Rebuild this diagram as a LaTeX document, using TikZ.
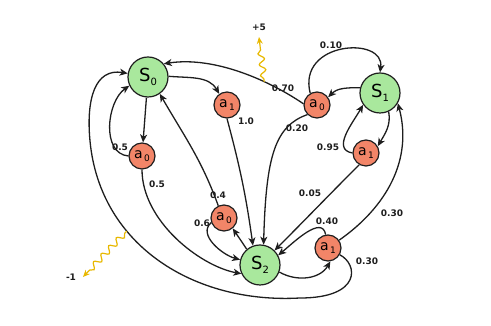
\documentclass[tikz,border=0pt]{standalone}
\usepackage{fontspec}
\setsansfont{DejaVu Sans}
\usetikzlibrary{arrows.meta,decorations.pathmorphing}
\definecolor{stateGreen}{HTML}{A9E89D}
\definecolor{actionRed}{HTML}{F28568}
\definecolor{inkGray}{HTML}{1E1E1E}
\definecolor{rewardGold}{HTML}{E8B800}
\newcommand{\stname}[1]{S\raisebox{-0.45ex}{\fontsize{10}{10}\selectfont #1}}
\newcommand{\actname}[1]{a\raisebox{-0.35ex}{\fontsize{9}{9}\selectfont\,#1}}
\tikzset{
    statenode/.style={circle,draw=inkGray,fill=stateGreen,line width=1.2pt,
        minimum size=40pt,inner sep=0pt,font=\sffamily\fontsize{18}{18}\selectfont},
    actnode/.style={circle,draw=inkGray,fill=actionRed,line width=1.2pt,
        minimum size=26pt,inner sep=0pt,font=\sffamily\fontsize{14}{14}\selectfont},
    trans/.style={-{Stealth[length=8pt,width=7pt,inset=2.2pt]},draw=inkGray,line width=1.3pt},
    prob/.style={font=\sffamily\bfseries\fontsize{9}{10}\selectfont,inner sep=0pt,text=inkGray},
    reward/.style={-{Stealth[length=7pt,width=6pt]},draw=rewardGold,line width=1.2pt,
        decorate,decoration={snake,amplitude=3pt,segment length=11pt,pre length=3pt,post length=8pt}}
}

\begin{document}
\begin{tikzpicture}[x=1pt,y=1pt]
    \useasboundingbox (0,0) rectangle (491,326);
    % states and actions
    \node[statenode] (S0) at (148,249) {\stname{0}};
    \node[statenode] (S1) at (380,233) {\stname{1}};
    \node[statenode] (S2) at (260,61) {\stname{2}};
    \node[actnode] (s0a0) at (142,170) {\actname{0}};
    \node[actnode] (s0a1) at (227,221) {\actname{1}};
    \node[actnode] (s1a0) at (317,221) {\actname{0}};
    \node[actnode] (s1a1) at (366,173) {\actname{1}};
    \node[actnode] (s2a0) at (224,108) {\actname{0}};
    \node[actnode] (s2a1) at (328,78) {\actname{1}};
    % from S0
    \draw[trans] (S0) -- (s0a0);
    \draw[trans] (S0.2) to[out=-5,in=120] (s0a1.125);
    \draw[trans] (s0a0.west) to[out=175,in=215] (S0.205);
    \draw[trans] (s0a0.south) .. controls (142,105) and (200,60) .. (S2.205);
    \draw[trans] (s0a1.south) to[out=-75,in=98] (S2.110);
    % from S1
    \draw[trans] (S1.165) to[out=180,in=45] (s1a0.35);
    \draw[trans] (S1.-65) to[out=-80,in=60] (s1a1.30);
    \draw[trans] (s1a0.175) .. controls (270,245) and (215,270) .. coordinate[pos=0.33] (gain) (S0.40);
    \draw[trans] (s1a0.120) .. controls (297,285) and (385,290) .. (S1.north);
    \draw[trans] (s1a0.225) .. controls (275,200) and (266,170) .. (S2.80);
    \draw[trans] (s1a1.west) to[out=170,in=240,looseness=1.1] (S1.215);
    \draw[trans] (s1a1.240) to[out=-135,in=45] (S2.45);
    % from S2
    \draw[trans] (S2.130) -- (s2a0.-50);
    \draw[trans] (S2.-20) to[out=-30,in=-120] (s2a1.-80);
    \draw[trans] (s2a0.115) to[out=110,in=-60] (S0.-55);
    \draw[trans] (s2a0.200) to[out=220,in=165] (S2.165);
    \draw[trans] (s2a1.100) to[out=100,in=40] (S2.28);
    \draw[trans] (s2a1.35) to[out=35,in=-75] (S1.-30);
    \draw[trans] (s2a1.-30) .. controls (358,62) and (362,28) .. (300,28)
        .. controls (195,22) and (100,80) .. coordinate[pos=0.66] (loss) (90,185)
        .. controls (86,227) and (95,258) .. (S0.170);
    % rewards
    \coordinate (gaintip) at (259,289);
    \coordinate (losstip) at (83,49);
    \draw[reward] (gain) -- (gaintip);
    \draw[reward] (loss) -- (losstip);
    \node[prob] (plus) at (259,299) {+5};
    \node[prob] (minus) at (71,49) {-1};
    % probabilities
    \node[prob] (p1) at (120,179) {0.5};
    \node[prob] (p2) at (157,142) {0.5};
    \node[prob] (p3) at (246,205) {1.0};
    \node[prob] (p4) at (283,238) {0.70};
    \node[prob] (p5) at (331,281) {0.10};
    \node[prob] (p6) at (297,198) {0.20};
    \node[prob] (p7) at (328,179) {0.95};
    \node[prob] (p8) at (310,133) {0.05};
    \node[prob] (p9) at (218,131) {0.4};
    \node[prob] (p10) at (202,103) {0.6};
    \node[prob] (p11) at (327,105) {0.40};
    \node[prob] (p12) at (392,113) {0.30};
    \node[prob] (p13) at (367,65) {0.30};
\end{tikzpicture}
\end{document}
